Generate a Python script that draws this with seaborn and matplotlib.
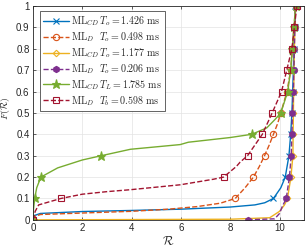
import numpy as np
import matplotlib
matplotlib.use("Agg")
import matplotlib.pyplot as plt
import seaborn as sns
from matplotlib.lines import Line2D

# --- DATA ---
blue_x = [0, 0.05, 0.3, 2.0, 4.0, 6.0, 8.0, 9.0, 9.4, 9.75, 10.05, 10.23, 10.38, 10.45, 10.5, 10.53, 10.56, 10.58, 10.61, 10.64]
blue_F = [0, 0.02, 0.03, 0.039, 0.044, 0.05, 0.06, 0.07, 0.08, 0.1, 0.15, 0.2, 0.3, 0.4, 0.5, 0.6, 0.7, 0.8, 0.9, 1.0]

orange_x = [0, 0.05, 0.3, 2.0, 4.0, 5.5, 6.65, 7.6, 8.2, 8.6, 8.94, 9.18, 9.39, 9.58, 9.75, 9.92, 10.05, 10.3, 10.45, 10.52, 10.58, 10.65]
orange_F = [0, 0.015, 0.025, 0.032, 0.04, 0.05, 0.062, 0.078, 0.1, 0.15, 0.2, 0.25, 0.3, 0.35, 0.4, 0.45, 0.5, 0.6, 0.7, 0.8, 0.9, 1.0]

yellow_x = [0, 8.0, 9.6, 10.0, 10.2, 10.32, 10.46, 10.54, 10.55, 10.56, 10.57, 10.59, 10.6, 10.62, 10.65]
yellow_F = [0, 0.003, 0.01, 0.04, 0.07, 0.1, 0.2, 0.3, 0.4, 0.5, 0.6, 0.7, 0.8, 0.9, 1.0]

purple_x = [8.7, 9.8, 10.0, 10.1, 10.27, 10.4, 10.47, 10.5, 10.52, 10.56, 10.58, 10.6, 10.62, 10.65]
purple_F = [0, 0.005, 0.03, 0.06, 0.1, 0.2, 0.3, 0.4, 0.5, 0.6, 0.7, 0.8, 0.9, 1.0]

green_x = [0, 0.02, 0.07, 0.15, 0.32, 1.0, 2.0, 2.77, 3.95, 5.97, 6.3, 8.0, 8.87, 9.48, 9.82, 10.05, 10.33, 10.45, 10.52, 10.58, 10.66]
green_F = [0, 0.05, 0.1, 0.15, 0.2, 0.243, 0.28, 0.3, 0.33, 0.352, 0.363, 0.385, 0.4, 0.43, 0.47, 0.5, 0.6, 0.7, 0.8, 0.9, 1.0]

red_x = [0, 0.09, 0.23, 1.13, 2.0, 3.0, 3.95, 5.97, 7.32, 7.73, 8.25, 8.4, 8.7, 9.3, 9.7, 10.08, 10.29, 10.5, 10.6, 10.7]
red_F = [0, 0.04, 0.07, 0.1, 0.12, 0.132, 0.141, 0.164, 0.19, 0.2, 0.25, 0.27, 0.3, 0.4, 0.5, 0.6, 0.7, 0.8, 0.9, 1.0]

labels = [
    r"$\mathrm{ML}_{CD}\,T_o = 1.426\ \mathrm{ms}$",
    r"$\mathrm{ML}_{D}\ \ T_o = 0.498\ \mathrm{ms}$",
    r"$\mathrm{ML}_{CD}\,T_o = 1.177\ \mathrm{ms}$",
    r"$\mathrm{ML}_{D}\ \ T_o = 0.206\ \mathrm{ms}$",
    r"$\mathrm{ML}_{CD}\,T_L = 1.785\ \mathrm{ms}$",
    r"$\mathrm{ML}_{D}\ \ T_b = 0.598\ \mathrm{ms}$",
]
x_ticks = [0, 2, 4, 6, 8, 10]
y_ticks = [0, 0.1, 0.2, 0.3, 0.4, 0.5, 0.6, 0.7, 0.8, 0.9, 1.0]

# --- STYLE ---
sns.set_style("ticks")
plt.rcParams['font.family'] = ['Liberation Sans', 'DejaVu Sans']
plt.rcParams['mathtext.fontset'] = 'cm'

series = [
    (blue_x, blue_F, '#0072BD', '-', 'x', 'none'),
    (orange_x, orange_F, '#D95319', '--', 'o', 'none'),
    (yellow_x, yellow_F, '#EDB120', '-', 'D', 'none'),
    (purple_x, purple_F, '#7E2F8E', '--', 'h', '#7E2F8E'),
    (green_x, green_F, '#77AC30', '-', '*', '#77AC30'),
    (red_x, red_F, '#A2142F', '--', 's', 'none'),
]
msizes = {'x': 4, 'o': 4.5, 'D': 3.3, 'h': 4.5, '*': 6.5, 's': 4.2}

fig = plt.figure(figsize=(3.07, 2.49), dpi=100)
ax = fig.add_axes([0.1075, 0.117, 0.8835, 0.859])

handles = []
for (xs, Fs, col, ls, mk, mfc), lab in zip(series, labels):
    deciles = [i for i, f in enumerate(Fs) if abs(f * 10 - round(f * 10)) < 1e-9]
    sns.lineplot(x=xs, y=Fs, ax=ax, sort=False, estimator=None, color=col,
                 linestyle=ls, linewidth=1.0, marker=mk, markevery=deciles,
                 markersize=msizes[mk], markerfacecolor=mfc, markeredgecolor=col,
                 markeredgewidth=0.8)
    handles.append(Line2D([], [], color=col, linestyle=ls, linewidth=1.0, marker=mk,
                          markersize=msizes[mk], markerfacecolor=mfc,
                          markeredgecolor=col, markeredgewidth=0.8, label=lab))

ax.set_xlim(0, 11)
ax.set_ylim(0, 1)
ax.set_xticks(x_ticks)
ax.set_yticks(y_ticks)
ax.set_yticklabels(['0', '0.1', '0.2', '0.3', '0.4', '0.5', '0.6', '0.7', '0.8', '0.9', '1'])
ax.grid(True, color='#e3e3e3', linewidth=0.5)
ax.set_axisbelow(True)
for s in ax.spines.values():
    s.set_color('#262626')
    s.set_linewidth(0.6)
ax.tick_params(direction='in', length=2.5, width=0.5, labelsize=7, colors='#262626',
               top=True, right=True, pad=2.5)
ax.set_xlabel(r"$\mathcal{R}$", fontsize=9, labelpad=1)
ax.set_ylabel(r"$F(\mathcal{R})$", fontsize=7)
ax.yaxis.set_label_coords(-0.076, 0.52)

leg = ax.legend(handles=handles, loc='upper left', bbox_to_anchor=(0.025, 0.975),
                borderaxespad=0, fontsize=7.2, handlelength=2.6, handletextpad=0.2,
                labelspacing=0.22, borderpad=0.3, frameon=True, fancybox=False,
                numpoints=1)
leg.get_frame().set_edgecolor('#262626')
leg.get_frame().set_linewidth(0.5)
leg.get_frame().set_alpha(1)

fig.savefig("out.png", dpi=100)
